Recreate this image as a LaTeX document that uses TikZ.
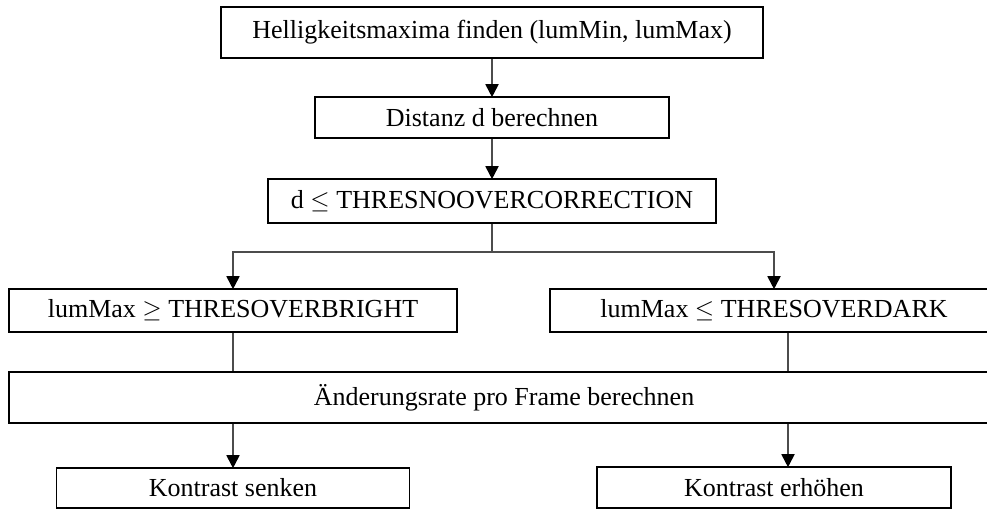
\documentclass[tikz,border=0pt]{standalone}
\usepackage{fontspec}
\setmainfont{Liberation Serif}
\usetikzlibrary{arrows.meta}
\tikzstyle{flowBox} = [draw, rectangle, line width=1.6pt, inner sep=0pt,
   font=\fontsize{26}{30}\selectfont]
\tikzstyle{flowLine} = [line width=1.8pt, black!70]
\tikzstyle{flowArrow} = [flowLine, -{Triangle[width=13pt, length=13pt, black]}, shorten >=-1pt]

\begin{document}
\begin{tikzpicture}[x=1pt, y=-1pt, node distance=85pt]
  \useasboundingbox (0,0) rectangle (987,510);
  \clip (0,0) rectangle (987,510);

  \node[flowBox, minimum width=542pt, minimum height=51pt] (node_max) at (492,32.5) {Helligkeitsmaxima finden (lumMin, lumMax)};
  \node[flowBox, minimum width=354pt, minimum height=41pt, below of=node_max] (node_dist) {Distanz d berechnen};
  \node[flowBox, minimum width=448pt, minimum height=44pt, below of=node_dist, yshift=1.5pt] (node_check) {d $\leq$ THRESNOOVERCORRECTION};
  \coordinate (split) at (492,252); % branching point

  \node[flowBox, minimum width=448pt, minimum height=43pt, below of=node_check, xshift=-259pt, yshift=-24.5pt] (node_bright) {lumMax $\geq$ THRESOVERBRIGHT};
  \node[flowBox, minimum width=448pt, minimum height=43pt, right of=node_bright, xshift=456pt] (node_dark) {lumMax $\leq$ THRESOVERDARK};

  \node[flowBox, minimum width=990pt, minimum height=51pt, below of=node_bright, xshift=271pt, yshift=-2pt] (node_rate) {Änderungsrate pro Frame berechnen};

  \node[flowBox, minimum width=353pt, minimum height=40pt, below of=node_bright, yshift=-92.5pt] (node_lower) {Kontrast senken};
  \node[flowBox, minimum width=354pt, minimum height=41pt, below of=node_dark, yshift=-92pt] (node_raise) {Kontrast erhöhen};

  % top chain
  \draw[flowArrow] (node_max) -- (node_dist);
  \draw[flowArrow] (node_dist) -- (node_check);

  % split into the two cases
  \draw[flowLine] (node_check) -- (split);
  \draw[flowArrow] (split) -| (node_bright);
  \draw[flowArrow] (split) -| (node_dark);

  % join in the rate box
  \draw[flowLine] (node_bright) -- (node_bright |- node_rate.north);
  \draw[flowLine] ([xshift=14pt]node_dark.south) -- ([xshift=14pt]node_dark.south |- node_rate.north);

  % results
  \draw[flowArrow] (node_lower.north |- node_rate.south) -- (node_lower);
  \draw[flowArrow] ([xshift=14pt]node_raise.north |- node_rate.south) -- ([xshift=14pt]node_raise.north);
\end{tikzpicture}
\end{document}
